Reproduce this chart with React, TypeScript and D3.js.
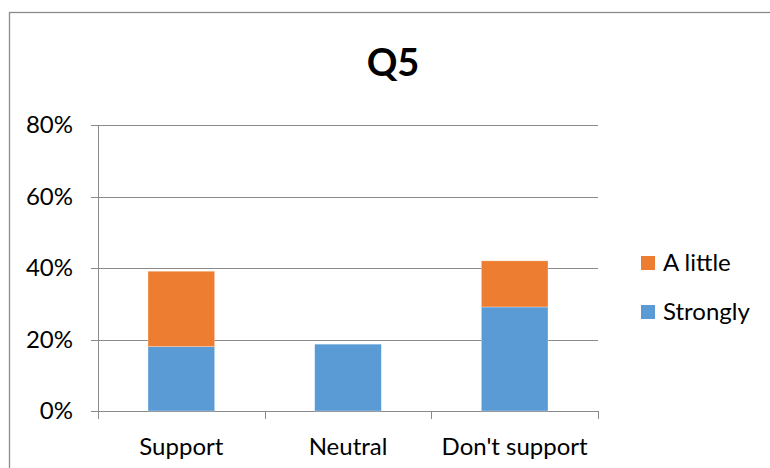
import React from "react";
import * as d3 from "d3";

// Survey answers for Q5, as shares of respondents
const categories = ["Support", "Neutral", "Don't support"];
const strongly = [0.18, 0.187, 0.291];
const aLittle = [0.211, 0, 0.129];
const seriesNames = ["Strongly", "A little"];
const yTicks = [0, 0.2, 0.4, 0.6, 0.8];
const title = "Q5";

const W = 770;
const H = 468;
const FONT = "Lato, 'Open Sans', sans-serif";
const COLORS: Record<string, string> = { Strongly: "#5B9BD5", "A little": "#ED7D31" };
const GRID = "#8a8a8a";

export default function App() {
  const x = d3
    .scaleBand<string>()
    .domain(categories)
    .range([98, 598])
    .paddingInner(0.6)
    .paddingOuter(0.3);
  const y = d3.scaleLinear().domain([0, 0.8]).range([411, 125]);

  const rows = categories.map((c, i) => ({ category: c, Strongly: strongly[i], "A little": aLittle[i] }));
  const stacked = d3.stack<any>().keys(seriesNames)(rows);

  const step = x.step();
  const [x0, x1] = x.range();
  const boundaries = d3.range(categories.length + 1).map((i) => x0 + i * step);
  const fmt = d3.format(".0%");

  return (
    <svg
      width={W}
      height={H}
      style={{ position: "absolute", left: 0, top: 0, background: "#fff" }}
      fontFamily={FONT}
    >
      <rect x={9.5} y={12.5} width={W + 20} height={H + 20} fill="#fff" stroke="#8c8c8c" strokeWidth={1.3} />

      <text x={393} y={76} textAnchor="middle" fontSize={38} fontWeight={700} fill="#000">
        {title}
      </text>

      {/* horizontal gridlines and y tick marks */}
      {yTicks.map((t) => (
        <g key={t}>
          <line x1={x0 - 7} x2={x1} y1={Math.round(y(t)) + 0.5} y2={Math.round(y(t)) + 0.5} stroke={GRID} strokeWidth={1} />
          <text x={73} y={y(t)} dy="0.35em" textAnchor="end" fontSize={24} fill="#000">
            {fmt(t)}
          </text>
        </g>
      ))}

      {/* vertical value axis */}
      <line x1={x0 + 0.5} x2={x0 + 0.5} y1={y(0.8)} y2={y(0) + 7} stroke={GRID} strokeWidth={1} />

      {/* category boundary ticks */}
      {boundaries.map((b, i) => (
        <line key={i} x1={Math.round(b) + 0.5} x2={Math.round(b) + 0.5} y1={y(0)} y2={y(0) + 8} stroke={GRID} strokeWidth={1} />
      ))}

      {/* stacked bars */}
      {stacked.map((s) => (
        <g key={s.key} fill={COLORS[s.key]}>
          {s.map((d, i) =>
            d[1] - d[0] > 0 ? (
              <rect
                key={i}
                x={x(categories[i])}
                y={y(d[1])}
                width={x.bandwidth()}
                height={y(d[0]) - y(d[1])}
                stroke="#ffffff"
                strokeOpacity={0.5}
                strokeWidth={0.6}
              />
            ) : null
          )}
        </g>
      ))}

      {categories.map((c) => (
        <text key={c} x={(x(c) as number) + x.bandwidth() / 2} y={455} textAnchor="middle" fontSize={24} fill="#000">
          {c}
        </text>
      ))}

      {/* legend, top entry is the upper stack segment */}
      {["A little", "Strongly"].map((k, i) => (
        <g key={k} transform={`translate(641, ${256 + i * 49})`}>
          <rect width={14} height={14} fill={COLORS[k]} />
          <text x={22} y={15} fontSize={24} fill="#000">
            {k}
          </text>
        </g>
      ))}
    </svg>
  );
}
